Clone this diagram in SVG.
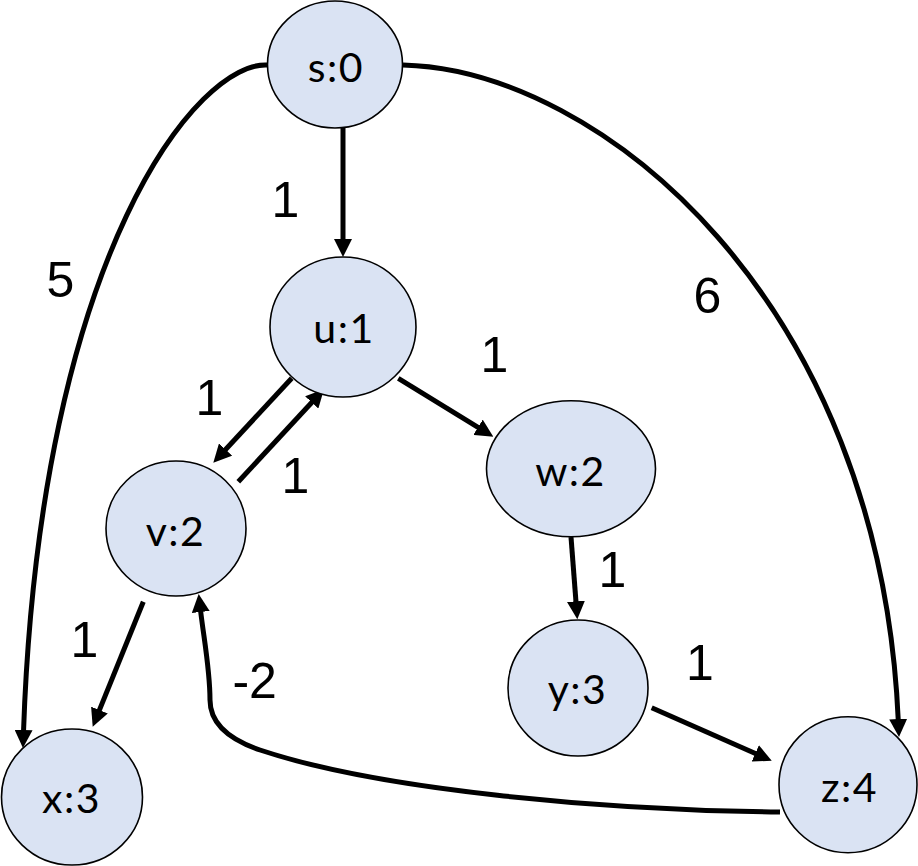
<svg xmlns="http://www.w3.org/2000/svg" width="918" height="866" viewBox="0 0 918 866">
  <style>
    .node ellipse { fill: #DAE3F3; stroke: #000; stroke-width: 1.6; }
    .node text { font-family: Lato, "Open Sans", sans-serif; font-size: 41px; fill: #000; text-anchor: middle; letter-spacing: 1.5px; }
    .edge { fill: none; stroke: #000; stroke-width: 5; marker-end: url(#arrow); }
    .lbl { font-family: "Liberation Sans", Arial, sans-serif; font-size: 50px; fill: #000; text-anchor: middle; }
  </style>
  <defs>
    <marker id="arrow" markerUnits="userSpaceOnUse" markerWidth="18" markerHeight="18" refX="2" refY="9" orient="auto">
      <path d="M0,0 L18,9 L0,18 z" fill="#000"/>
    </marker>
  </defs>
  <rect width="918" height="866" fill="#fff"/>

  <g id="connectors">
    <path class="edge" d="M343,128 L343,241"/>
    <path class="edge" d="M268,65 C200,60 40,250 23.5,732"/>
    <path class="edge" d="M403,65 C600,70 880,300 898.3,721"/>
    <path class="edge" d="M291.7,378.3 L224.2,451"/>
    <path class="edge" d="M238.3,481.7 L313.1,401"/>
    <path class="edge" d="M398.3,378.3 L479.7,428.3"/>
    <path class="edge" d="M571,537 L576.1,603.3"/>
    <path class="edge" d="M651.7,707.7 L757.1,754.2"/>
    <path class="edge" d="M143.3,601.7 L98.7,711.9"/>
    <path class="edge" d="M780,812 C600,810 380,790 260,750 Q210,733 210,700 C210,670 204,640 200.5,610"/>
  </g>

  <g id="edge-labels">
    <text class="lbl" x="285.5" y="216.7">1</text>
    <text class="lbl" x="60.5" y="296.7">5</text>
    <text class="lbl" x="707.5" y="313.3">6</text>
    <text class="lbl" x="209.5" y="415">1</text>
    <text class="lbl" x="295.5" y="493">1</text>
    <text class="lbl" x="494.5" y="371.7">1</text>
    <text class="lbl" x="612.5" y="586.7">1</text>
    <text class="lbl" x="700" y="680">1</text>
    <text class="lbl" x="84.3" y="656.7">1</text>
    <text class="lbl" x="254.7" y="698.3">-2</text>
  </g>

  <g id="node-s" class="node">
    <ellipse cx="335" cy="64.5" rx="67.5" ry="63.5"/>
    <text x="336" y="81.7">s:0</text>
  </g>
  <g id="node-u" class="node">
    <ellipse cx="343" cy="327" rx="73" ry="70"/>
    <text x="344" y="343.3">u:1</text>
  </g>
  <g id="node-v" class="node">
    <ellipse cx="176" cy="528.5" rx="70" ry="67.5"/>
    <text x="175.5" y="545.7">v:2</text>
  </g>
  <g id="node-w" class="node">
    <ellipse cx="571" cy="468.7" rx="84.5" ry="68"/>
    <text x="570.5" y="486">w:2</text>
  </g>
  <g id="node-y" class="node">
    <ellipse cx="578" cy="688" rx="70" ry="68"/>
    <text x="577.5" y="704">y:3</text>
  </g>
  <g id="node-x" class="node">
    <ellipse cx="72" cy="797" rx="70.5" ry="68"/>
    <text x="71.5" y="813.3">x:3</text>
  </g>
  <g id="node-z" class="node">
    <ellipse cx="848" cy="784.7" rx="69" ry="68"/>
    <text x="849.5" y="801.7">z:4</text>
  </g>
</svg>
